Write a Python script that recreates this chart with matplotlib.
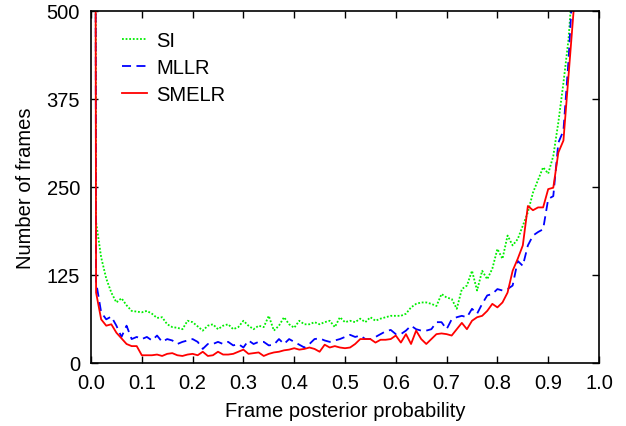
import numpy as np
import matplotlib
matplotlib.use("Agg")
import matplotlib.pyplot as plt

plt.rcParams['font.family'] = ['Liberation Sans', 'DejaVu Sans']

x = [round(0.01 * i, 2) for i in range(100)]

si = [5000, 200, 150, 120, 100, 86, 92, 82, 74, 73,
      72, 74, 70, 64, 65, 55, 51, 50, 48, 60,
      58, 52, 46, 53, 55, 48, 53, 55, 48, 51,
      60, 53, 48, 53, 51, 67, 46, 53, 65, 55,
      50, 60, 55, 55, 58, 55, 58, 60, 51, 65,
      58, 60, 58, 63, 58, 65, 60, 63, 65, 67,
      67, 67, 70, 79, 84, 86, 86, 84, 81, 98,
      93, 91, 77, 105, 110, 131, 103, 131, 119, 134,
      162, 148, 181, 167, 176, 195, 214, 242, 260, 278,
      269, 294, 342, 398, 460, 560, 700, 900, 1200, 1600]

mllr = [5000, 115, 72, 62, 66, 53, 37, 53, 34, 37,
        34, 37, 32, 39, 30, 34, 32, 27, 30, 32,
        34, 30, 20, 27, 27, 30, 27, 30, 25, 27,
        22, 32, 27, 30, 30, 25, 26, 34, 27, 34,
        30, 26, 22, 27, 34, 35, 32, 30, 32, 34,
        37, 40, 37, 39, 34, 34, 37, 41, 45, 47,
        41, 41, 46, 53, 48, 46, 46, 48, 58, 58,
        48, 62, 65, 67, 65, 77, 70, 84, 96, 98,
        105, 103, 105, 110, 145, 138, 167, 181, 186, 190,
        233, 237, 313, 330, 430, 560, 750, 950, 1250, 1650]

smelr = [5000, 100, 62, 53, 55, 43, 35, 27, 24, 24,
         11, 11, 11, 12, 10, 13, 14, 11, 10, 12,
         13, 11, 16, 10, 11, 16, 12, 12, 13, 16,
         19, 13, 14, 15, 10, 13, 15, 16, 18, 19,
         21, 19, 20, 22, 20, 16, 26, 22, 24, 22,
         21, 22, 27, 34, 34, 34, 29, 33, 33, 34,
         39, 29, 41, 27, 46, 34, 27, 34, 41, 42,
         41, 39, 48, 57, 48, 60, 65, 67, 74, 84,
         79, 86, 100, 131, 148, 167, 223, 217, 221, 221,
         247, 249, 299, 316, 408, 500, 650, 850, 1100, 1500]

labels = ["SI", "MLLR", "SMELR"]
xticks = [0.0, 0.1, 0.2, 0.3, 0.4, 0.5, 0.6, 0.7, 0.8, 0.9, 1.0]
yticks = [0, 125, 250, 375, 500]

FS = 14.5

fig = plt.figure(figsize=(6.26, 4.27), dpi=100)
ax = fig.add_axes([91/626, 1 - 364/427, 508/626, 352/427])

ax.plot(x, si, color='#00ee00', linestyle=(0, (1, 1)), linewidth=1.3, label=labels[0])
ax.plot(x, mllr, color='#0000ff', linestyle=(0, (5, 3)), linewidth=1.3, label=labels[1])
ax.plot(x, smelr, color='#ff0000', linestyle='-', linewidth=1.3, label=labels[2])

ax.set_xlim(0, 1)
ax.set_ylim(0, 500)
ax.set_xticks(xticks)
ax.set_xticklabels([f"{t:.1f}" for t in xticks])
ax.set_yticks(yticks)
ax.tick_params(direction='in', top=True, right=True, length=5, width=1,
               labelsize=FS)
ax.tick_params(axis='x', pad=7)
ax.tick_params(axis='y', pad=8)
for s in ax.spines.values():
    s.set_linewidth(1.2)

ax.set_xlabel("Frame posterior probability", fontsize=FS, labelpad=7)
ax.set_ylabel("Number of frames", fontsize=FS, labelpad=8)

ax.legend(loc='upper left', frameon=False, fontsize=FS, handlelength=1.25,
          handletextpad=0.46, labelspacing=0.4, borderaxespad=0.0,
          bbox_to_anchor=(0.045, 0.967))

fig.savefig("out.png", dpi=100)
